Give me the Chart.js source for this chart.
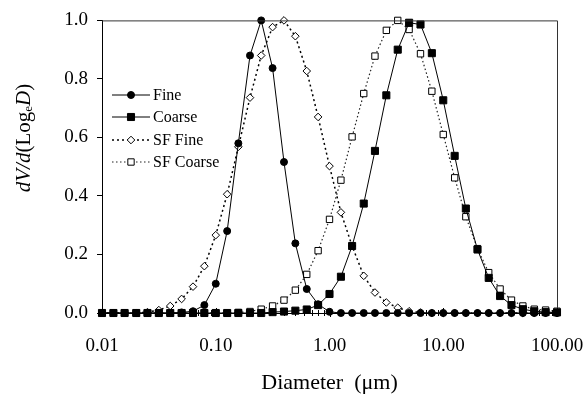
<!DOCTYPE html>
<html>
<head>
<meta charset="utf-8">
<script src="https://cdn.jsdelivr.net/npm/chart.js@4.4.0/dist/chart.umd.min.js"></script>
<style>
  html, body { margin: 0; padding: 0; background: #fff; }
  #wrap { width: 584px; height: 397px; }
</style>
</head>
<body>
<div id="wrap"><canvas id="psdChart" width="584" height="397"></canvas></div>
<script>
// particle diameters (um), 10 bins per decade
const diameters = [
  0.0100, 0.0126, 0.0158, 0.0200, 0.0251, 0.0316, 0.0398, 0.0501, 0.0631, 0.0794,
  0.100, 0.126, 0.158, 0.200, 0.251, 0.316, 0.398, 0.501, 0.631, 0.794,
  1.00, 1.26, 1.58, 2.00, 2.51, 3.16, 3.98, 5.01, 6.31, 7.94,
  10.0, 12.6, 15.8, 20.0, 25.1, 31.6, 39.8, 50.1, 63.1, 79.4, 100
];
const fine = [
  0, 0, 0, 0, 0, 0, 0, 0.002, 0.006, 0.027,
  0.10, 0.28, 0.58, 0.88, 1.0, 0.837, 0.516, 0.238, 0.082, 0.03,
  0.004, 0, 0, 0, 0, 0, 0, 0, 0, 0,
  0, 0, 0, 0, 0, 0, 0, 0, 0, 0, 0
];
const coarse = [
  0, 0, 0, 0, 0, 0, 0, 0, 0, 0,
  0, 0, 0, 0, 0, 0.003, 0.005, 0.008, 0.012, 0.027,
  0.065, 0.124, 0.229, 0.374, 0.554, 0.744, 0.90, 0.992, 0.986, 0.888,
  0.727, 0.537, 0.357, 0.217, 0.12, 0.058, 0.027, 0.013, 0.006, 0.003, 0.002
];
const sfFine = [
  0, 0, 0, 0, 0.003, 0.01, 0.024, 0.048, 0.09, 0.16,
  0.266, 0.406, 0.568, 0.736, 0.88, 0.977, 1.0, 0.946, 0.827, 0.67,
  0.502, 0.344, 0.229, 0.127, 0.07, 0.036, 0.018, 0.006, 0.002, 0,
  0, 0, 0, 0, 0, 0, 0, 0, 0, 0, 0
];
const sfCoarse = [
  0, 0, 0, 0, 0, 0, 0, 0, 0, 0,
  0, 0, 0.002, 0.005, 0.013, 0.024, 0.044, 0.078, 0.132, 0.213,
  0.32, 0.454, 0.602, 0.75, 0.878, 0.966, 1.0, 0.969, 0.886, 0.758,
  0.61, 0.462, 0.329, 0.22, 0.138, 0.082, 0.044, 0.024, 0.013, 0.01, 0.006
];
const seriesNames = ['Fine', 'Coarse', 'SF Fine', 'SF Coarse'];
const xTickValues = [0.01, 0.1, 1, 10, 100];
const xTickLabels = ['0.01', '0.10', '1.00', '10.00', '100.00'];
const xMinorTicks = [2, 3, 4, 5, 6, 7, 8, 9];
const xTitle = 'Diameter  (\u03bcm)';
// y title pieces: text, italic?, subscript?
const yTitleParts = [['dV/d', true, false], ['(Log', false, false], ['e', false, true], ['D', true, false], [')', false, false]];

const SERIF = "'Liberation Serif', 'Times New Roman', serif";

function pts(vals) {
  return vals.map((v, i) => ({ x: diameters[i], y: v }));
}

const baseSet = { tension: 0, borderColor: '#000', pointBorderColor: '#000', pointBorderWidth: 1, clip: false };
const datasets = [
  Object.assign({}, baseSet, { label: seriesNames[0], data: pts(fine), borderWidth: 1,
    pointStyle: 'circle', pointRadius: 3.5, pointBackgroundColor: '#000' }),
  Object.assign({}, baseSet, { label: seriesNames[1], data: pts(coarse), borderWidth: 1,
    pointStyle: 'rect', pointRadius: 5, pointBackgroundColor: '#000' }),
  Object.assign({}, baseSet, { label: seriesNames[2], data: pts(sfFine), borderWidth: 1.5, borderDash: [2, 3],
    pointStyle: 'rectRot', pointRadius: 3.8, pointBackgroundColor: '#fff' }),
  Object.assign({}, baseSet, { label: seriesNames[3], data: pts(sfCoarse), borderWidth: 1.2, borderDash: [1.5, 2.5],
    borderColor: '#222', pointStyle: 'rect', pointRadius: 4.5, pointBackgroundColor: '#fff' })
];

function marker(ctx, ds, x, y) {
  const r = ds.pointRadius;
  ctx.save();
  ctx.setLineDash([]);
  ctx.lineWidth = 1;
  ctx.strokeStyle = '#000';
  ctx.fillStyle = ds.pointBackgroundColor;
  ctx.beginPath();
  if (ds.pointStyle === 'circle') {
    ctx.arc(x, y, r, 0, Math.PI * 2);
  } else if (ds.pointStyle === 'rect') {
    const s = r * Math.SQRT1_2;
    ctx.rect(x - s, y - s, 2 * s, 2 * s);
  } else {
    ctx.moveTo(x, y - r); ctx.lineTo(x + r, y); ctx.lineTo(x, y + r); ctx.lineTo(x - r, y); ctx.closePath();
  }
  ctx.fill();
  ctx.stroke();
  ctx.restore();
}

const decorPlugin = {
  id: 'decor',
  afterDraw(chart) {
    const ctx = chart.ctx;
    const a = chart.chartArea;
    const xs = chart.scales.x;
    ctx.save();
    // frame
    ctx.strokeStyle = '#333';
    ctx.lineWidth = 1;
    ctx.beginPath();
    ctx.moveTo(a.left, a.top + 0.5); ctx.lineTo(a.right + 0.5, a.top + 0.5); ctx.lineTo(a.right + 0.5, a.bottom);
    ctx.stroke();
    // minor x ticks
    ctx.strokeStyle = '#000';
    ctx.beginPath();
    xTickValues.slice(0, -1).forEach(dec => {
      xMinorTicks.forEach(m => {
        const px = Math.round(xs.getPixelForValue(dec * m)) + 0.5;
        ctx.moveTo(px, a.bottom - 3); ctx.lineTo(px, a.bottom + 3);
      });
    });
    xTickValues.forEach(v => {
      const px = Math.round(xs.getPixelForValue(v)) + 0.5;
      ctx.moveTo(px, a.bottom - 5); ctx.lineTo(px, a.bottom + 4);
    });
    ctx.stroke();

    // legend
    const rows = [95, 117, 140, 162];
    chart.data.datasets.forEach((ds, i) => {
      const y = rows[i];
      ctx.save();
      ctx.strokeStyle = ds.borderColor;
      ctx.lineWidth = ds.borderWidth;
      ctx.setLineDash(ds.borderDash || []);
      ctx.beginPath();
      ctx.moveTo(112, y); ctx.lineTo(150, y);
      ctx.stroke();
      ctx.restore();
      marker(ctx, ds, 131, y);
      ctx.fillStyle = '#000';
      ctx.font = '16px ' + SERIF;
      ctx.textAlign = 'left';
      ctx.textBaseline = 'middle';
      ctx.fillText(ds.label, 153, y + 1);
    });

    // y axis title, rotated
    ctx.translate(24, 138);
    ctx.rotate(-Math.PI / 2);
    const fontOf = p => (p[1] ? 'italic ' : '') + (p[2] ? '13px ' : '21px ') + SERIF;
    let total = 0;
    yTitleParts.forEach(p => { ctx.font = fontOf(p); total += ctx.measureText(p[0]).width; });
    let cx = -total / 2;
    ctx.fillStyle = '#000';
    ctx.textBaseline = 'middle';
    ctx.textAlign = 'left';
    yTitleParts.forEach(p => {
      ctx.font = fontOf(p);
      ctx.fillText(p[0], cx, p[2] ? 5 : 0);
      cx += ctx.measureText(p[0]).width;
    });
    ctx.restore();
  }
};

new Chart(document.getElementById('psdChart').getContext('2d'), {
  type: 'line',
  data: { datasets: datasets },
  options: {
    responsive: false,
    animation: false,
    devicePixelRatio: 1,
    layout: { padding: { top: 20, right: 27, left: 0, bottom: 0 } },
    plugins: { legend: { display: false }, tooltip: { enabled: false } },
    scales: {
      x: {
        type: 'logarithmic',
        min: 0.01, max: 100,
        afterBuildTicks: s => { s.ticks = xTickValues.map(v => ({ value: v })); },
        afterFit: s => { s.height = 84; s.paddingLeft = 0; s.paddingRight = 0; },
        grid: { display: false, drawTicks: false },
        border: { display: true, color: '#000', width: 1 },
        ticks: {
          padding: 22, color: '#000', maxRotation: 0, autoSkip: false,
          font: { family: SERIF, size: 19 },
          callback: v => xTickLabels[xTickValues.indexOf(v)]
        },
        title: { display: true, text: xTitle, color: '#000', font: { family: SERIF, size: 22 }, padding: { top: 0, bottom: 1 } }
      },
      y: {
        min: 0, max: 1,
        afterFit: s => { s.width = 102; },
        grid: { display: true, drawOnChartArea: false, drawTicks: true, tickLength: 5, color: '#000' },
        border: { display: true, color: '#000', width: 1 },
        ticks: {
          stepSize: 0.2, padding: 9, color: '#000',
          font: { family: SERIF, size: 19 },
          callback: v => v.toFixed(1)
        }
      }
    }
  },
  plugins: [decorPlugin]
});
</script>
</body>
</html>
